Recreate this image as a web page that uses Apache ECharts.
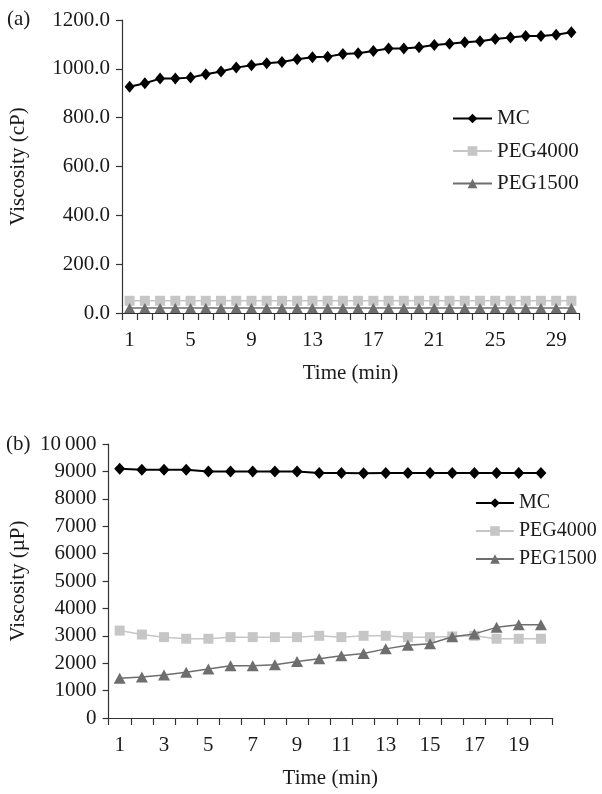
<!DOCTYPE html>
<html>
<head>
<meta charset="utf-8">
<script src="https://cdn.jsdelivr.net/npm/echarts@6/dist/echarts.min.js"></script>
<style>
html,body{margin:0;padding:0;background:#fff;}
#a{position:absolute;left:0;top:0;width:602px;height:395px;}
#b{position:absolute;left:0;top:395px;width:602px;height:399px;}
</style>
</head>
<body>
<div id="a"></div>
<div id="b"></div>
<script>
var catA = ['1','2','3','4','5','6','7','8','9','10','11','12','13','14','15','16','17','18','19','20','21','22','23','24','25','26','27','28','29','30'];
var mcA = [927,941,960,960,964,978,989,1005,1015,1023,1028,1039,1047,1050,1061,1064,1073,1083,1083,1088,1098,1103,1109,1113,1122,1128,1134,1134,1140,1150];
var peg4000A = [50,50,50,50,50,50,50,50,50,50,50,50,50,50,50,50,50,50,50,50,50,50,50,50,50,50,50,50,50,50];
var peg1500A = [20,20,20,20,20,20,20,20,20,20,20,20,20,20,20,20,20,20,20,20,20,20,20,20,20,20,20,20,20,20];

var catB = ['1','2','3','4','5','6','7','8','9','10','11','12','13','14','15','16','17','18','19','20'];
var mcB = [9100,9060,9060,9060,9000,9000,9000,9000,9000,8940,8940,8930,8940,8940,8940,8940,8940,8940,8940,8940];
var peg4000B = [3190,3046,2951,2892,2892,2951,2951,2951,2951,3000,2951,3000,3000,2951,2951,2975,3000,2892,2892,2892];
var peg1500B = [1452,1500,1571,1666,1785,1905,1905,1940,2059,2166,2273,2356,2523,2654,2713,2963,3070,3308,3403,3403];

var seriesNames = ['MC','PEG4000','PEG1500'];

var FONT = 'Liberation Serif';
var TXT = '#1a1a1a';
var AX = '#333';
var C_MC = '#000000', C_4000 = '#c6c6c6', C_1500 = '#6e6e6e';

function baseX(cat, labelInterval, name, nameGap) {
  return {
    type: 'category', data: cat, boundaryGap: true,
    axisLine: {lineStyle: {color: AX, width: 1.2}},
    axisTick: {show: true, inside: false, length: 7, interval: 0, lineStyle: {color: AX, width: 1.2}},
    axisLabel: {interval: labelInterval, margin: 17, fontSize: 21, fontFamily: FONT, color: TXT},
    splitLine: {show: false},
    name: name, nameLocation: 'middle', nameGap: nameGap,
    nameTextStyle: {fontSize: 21, fontFamily: FONT, color: TXT}
  };
}
function baseY(max, interval, fmt, name, nameGap) {
  return {
    type: 'value', min: 0, max: max, interval: interval,
    axisLine: {show: true, lineStyle: {color: AX, width: 1.2}},
    axisTick: {show: true, inside: false, length: 6, lineStyle: {color: AX, width: 1.2}},
    axisLabel: {margin: 12, fontSize: 21, fontFamily: FONT, color: TXT, formatter: fmt},
    splitLine: {show: false},
    name: name, nameLocation: 'middle', nameGap: nameGap,
    nameTextStyle: {fontSize: 21, fontFamily: FONT, color: TXT}
  };
}
function mkSeries(d1, d2, d3, sz) {
  return [
    {name: seriesNames[0], type: 'line', data: d1, symbol: 'diamond', symbolSize: sz.mc, showAllSymbol: true,
     lineStyle: {color: C_MC, width: 2}, itemStyle: {color: C_MC}, z: 5},
    {name: seriesNames[1], type: 'line', data: d2, symbol: 'rect', symbolSize: sz.sq, showAllSymbol: true,
     lineStyle: {color: C_4000, width: 1.5}, itemStyle: {color: C_4000}, z: 3},
    {name: seriesNames[2], type: 'line', data: d3, symbol: 'triangle', symbolSize: sz.tri, showAllSymbol: true,
     lineStyle: {color: C_1500, width: 1.5}, itemStyle: {color: C_1500}, z: 4}
  ];
}
function mkLegend(left, top, gap, fs, iw) {
  return {
    orient: 'vertical', left: left, top: top, itemGap: gap,
    itemWidth: iw, itemHeight: 12, data: seriesNames,
    textStyle: {fontSize: fs, fontFamily: FONT, color: TXT}
  };
}

var chA = echarts.init(document.getElementById('a'), null, {renderer: 'canvas'});
chA.setOption({
  animation: false,
  grid: {left: 115, top: 20, width: 464, height: 293},
  xAxis: baseX(catA, 3, 'Time (min)', 50),
  yAxis: baseY(1200, 200, function (v) { return v.toFixed(1); }, 'Viscosity (cP)', 93),
  legend: mkLegend(447, 103, 11.5, 21, 39),
  graphic: [{type: 'text', left: 7, top: 9, style: {text: '(a)', fontSize: 21, fontFamily: FONT, fill: TXT}}],
  series: mkSeries(mcA, peg4000A, peg1500A, {mc: [10, 12], sq: 10, tri: [11, 10]})
});

var chB = echarts.init(document.getElementById('b'), null, {renderer: 'canvas'});
chB.setOption({
  animation: false,
  grid: {left: 101, top: 49, width: 451, height: 282},
  xAxis: baseX(catB, 1, 'Time (min)', 50),
  yAxis: baseY(10000, 1000, function (v) { return v === 10000 ? '10\u2009000' : String(v); }, 'Viscosity (\u00b5P)', 79),
  legend: mkLegend(470, 93, 8, 20, 38),
  graphic: [{type: 'text', left: 6, top: 39, style: {text: '(b)', fontSize: 21, fontFamily: FONT, fill: TXT}}],
  series: mkSeries(mcB, peg4000B, peg1500B, {mc: [11, 12], sq: 10, tri: [12, 11]})
});
</script>
</body>
</html>
